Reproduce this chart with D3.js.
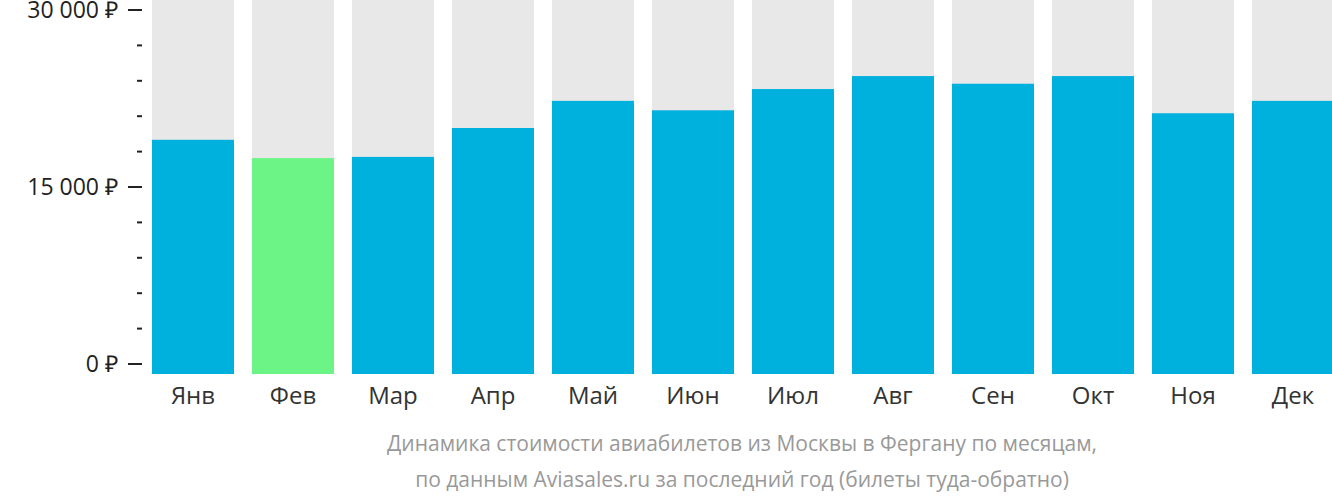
<!DOCTYPE html>
<html><head><meta charset="utf-8">
<script src="https://cdn.jsdelivr.net/npm/d3@7"></script>
<style>body{margin:0;background:#fff}text{font-family:"Open Sans",sans-serif}</style>
</head><body><svg id="chart" width="1332" height="502"></svg>
<script>
// Monthly prices (RUB)
const months = ["Янв","Фев","Мар","Апр","Май","Июн","Июл","Авг","Сен","Окт","Ноя","Дек"];
const prices = [19000, 17450, 17550, 20000, 22300, 21500, 23300, 24400, 23750, 24400, 21250, 22300];
const cheapestIndex = 1;
const majorTicks = [0, 15000, 30000];
const minorTicks = d3.range(3000, 30000, 3000).filter(v => v !== 15000);

const svg = d3.select("#chart");
const y = d3.scaleLinear().domain([0, 30000]).range([364, 10]);
const x = d3.scaleBand().domain(months).range([152, 1334]).paddingInner(0.18).paddingOuter(0);
const bottom = 374;

// grey background columns
svg.selectAll("rect.bg").data(months).join("rect")
  .attr("x", d => x(d)).attr("width", x.bandwidth())
  .attr("y", 0).attr("height", bottom).attr("fill", "#e8e8e8");

svg.selectAll("rect.bar").data(prices).join("rect")
  .attr("x", (d, i) => x(months[i])).attr("width", x.bandwidth())
  .attr("y", d => y(d)).attr("height", d => bottom - y(d))
  .attr("fill", (d, i) => i === cheapestIndex ? "#6cf586" : "#00b0dd");

// y axis
const fmt = v => d3.format(",")(v).replace(/,/g, " ") + " ₽";
svg.selectAll("line.major").data(majorTicks).join("line")
  .attr("x1", 128).attr("x2", 142).attr("y1", d => y(d)).attr("y2", d => y(d))
  .attr("stroke", "#222").attr("stroke-width", 2);
svg.selectAll("line.minor").data(minorTicks).join("line")
  .attr("x1", 137).attr("x2", 142).attr("y1", d => y(d)).attr("y2", d => y(d))
  .attr("stroke", "#222").attr("stroke-width", 2);
svg.selectAll("text.ylab").data(majorTicks).join("text")
  .attr("x", 118).attr("y", d => y(d)).attr("dy", "0.35em")
  .attr("text-anchor", "end").attr("font-size", 23).attr("fill", "#222")
  .text(fmt);

// month labels
svg.selectAll("text.xlab").data(months).join("text")
  .attr("x", d => x(d) + x.bandwidth() / 2).attr("y", 404)
  .attr("text-anchor", "middle").attr("font-size", 24).attr("fill", "#333")
  .text(d => d);

// caption
const caption = ["Динамика стоимости авиабилетов из Москвы в Фергану по месяцам,",
  "по данным Aviasales.ru за последний год (билеты туда-обратно)"];
svg.selectAll("text.cap").data(caption).join("text")
  .attr("x", 742).attr("y", (d, i) => 451 + i * 36)
  .attr("text-anchor", "middle").attr("font-size", 21).attr("fill", "#999")
  .text(d => d);
</script></body></html>
